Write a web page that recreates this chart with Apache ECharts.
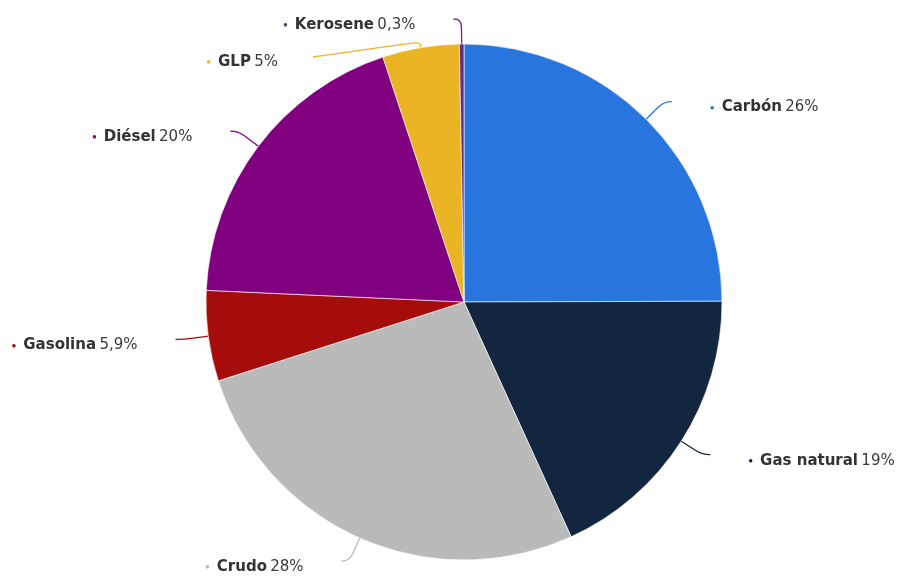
<!DOCTYPE html>
<html><head><meta charset="utf-8">
<script src="https://cdn.jsdelivr.net/npm/echarts@6/dist/echarts.min.js"></script>
<style>html,body{margin:0;padding:0;background:#fff}#c{width:897px;height:579px}</style>
</head><body><div id="c"></div>
<script>
const categories = ['Carbón', 'Gas natural', 'Crudo', 'Gasolina', 'Diésel', 'GLP', 'Kerosene'];
const values = [26, 19, 28, 5.9, 20, 5, 0.3];
const valueLabels = ['26%', '19%', '28%', '5,9%', '20%', '5%', '0,3%'];
const colors = ['#2876dd', '#13263f', '#bababa', '#a50d0d', '#800080', '#ebb425', '#6b2c80'];

const chart = echarts.init(document.getElementById('c'), null, {renderer: 'canvas'});
const FONT = 'DejaVu Sans';
const rich = {
  n: {fontFamily: FONT, fontSize: 15, fontWeight: 'bold', color: '#333'},
  v: {fontFamily: FONT, fontSize: 15, color: '#3a3a3a'}
};
colors.forEach((c, i) => { rich['d' + i] = {color: c, fontSize: 8, padding: [0, 7, 0, 0]}; });
chart.setOption({
  animation: false,
  series: [{
    type: 'pie',
    center: [464, 302],
    radius: 258,
    startAngle: 90,
    clockwise: true,
    avoidLabelOverlap: false,
    data: categories.map((n, i) => ({name: n, value: values[i], itemStyle: {color: colors[i]}})),
    itemStyle: {borderColor: '#fff', borderWidth: 0.6},
    label: {
      formatter: p => '{d' + p.dataIndex + '|●}{n|' + p.name + '} {v|' + valueLabels[p.dataIndex] + '}',
      rich: rich,
      padding: [12, 0, 0, 0],
      distanceToLabelLine: 38
    },
    labelLine: {show: true, length: 25, length2: 8, smooth: 0.5, lineStyle: {width: 1.3}},
    labelLayout: function (params) {
      if (params.dataIndex === 5) {
        const p0 = params.labelLinePoints[0];
        const rightEdge = 278, y = 56;
        return {
          x: rightEdge, y: y,
          labelLinePoints: [p0, [p0[0], p0[1] - 6], [rightEdge + 35, y + 1]]
        };
      }
      return {};
    }
  }]
});
</script></body></html>
